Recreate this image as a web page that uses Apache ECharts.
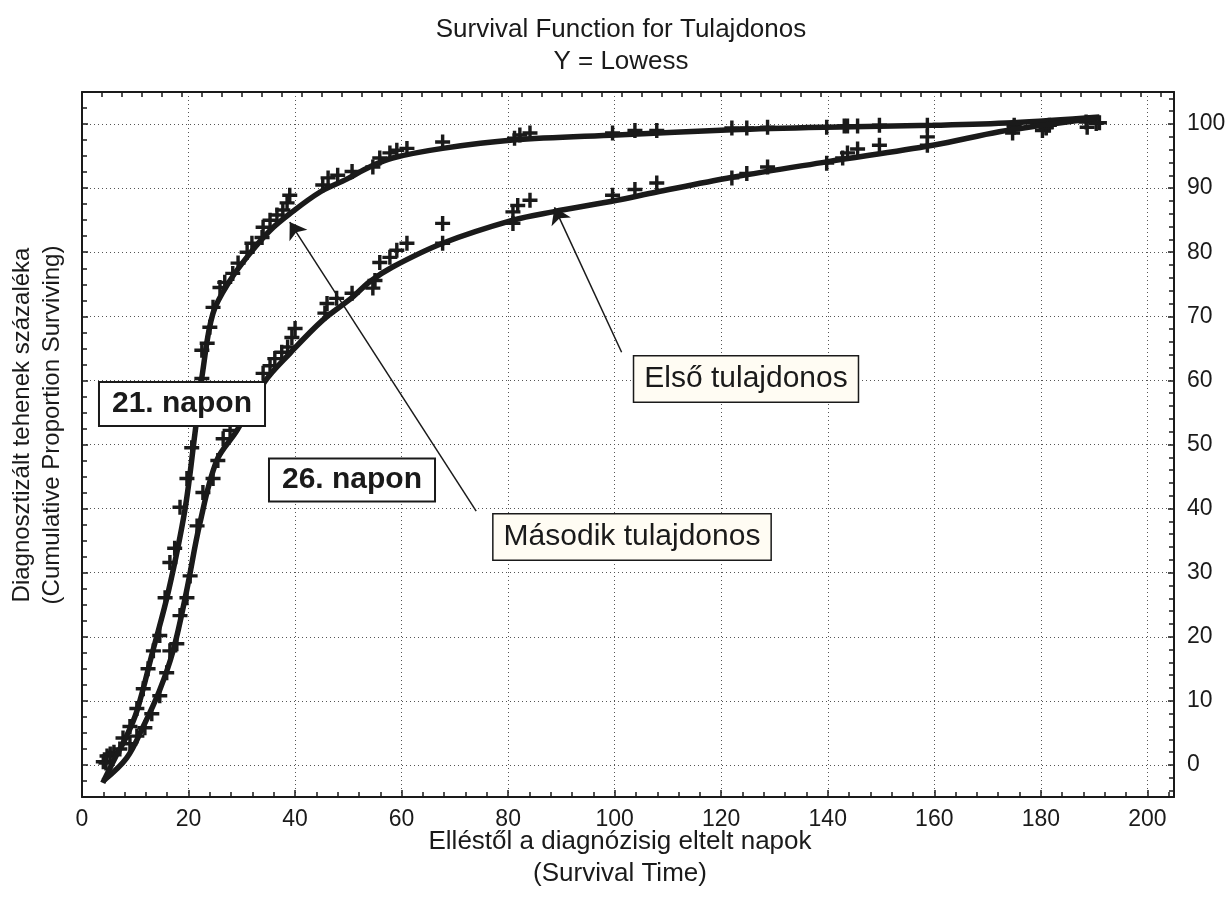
<!DOCTYPE html>
<html>
<head>
<meta charset="utf-8">
<script src="https://cdn.jsdelivr.net/npm/echarts@6/dist/echarts.min.js"></script>
<style>
  html, body { margin: 0; padding: 0; background: #fff; }
  #chart { width: 1232px; height: 909px; }
</style>
</head>
<body>
<div id="chart"></div>
<script>
// felső görbe (Második tulajdonos) - mért pontok
const upperPts = [[4,0.5],[4.7,1.4],[6,2],[7.7,4.2],[9,6],[10.3,8.8],[11.5,11.9],[12.4,15],[13.4,17.8],[14.6,20.2],
  [15.6,26.1],[16.5,31.6],[17.4,33.8],[18.4,40.2],[19.7,44.7],[20.6,49.5],[22.5,60.3],[22.5,64.7],[23.5,65.8],[24,68.3],
  [24.6,71.4],[25.9,74.5],[26.8,75.3],[28.3,76.7],[29.3,78.3],[31,80],[31.9,81.4],[33.8,82.3],[34,83.9],[35.3,85],
  [36.6,85.8],[37.7,86.6],[38.5,87.7],[39,88.9],[45.2,90.5],[46.2,91.6],[48,92],[50.7,92.6],[54.6,93.3],[55.9,94.7],
  [57.8,95.5],[59.1,95.9],[61,96.2],[67.7,97.2],[81.2,97.8],[82.2,98.3],[84.1,98.6],[99.6,98.6],[103.8,99],[107.9,99],
  [122,99.4],[124.8,99.4],[128.7,99.5],[139.8,99.5],[143.1,99.7],[143.7,99.7],[145.6,99.7],[149.7,99.8],[158.7,99.8],
  [175,99.8],[181,99.4],[181.6,99.8],[188.5,100.3],[190.4,100.1]];
// alsó görbe (Első tulajdonos) - mért pontok
const lowerPts = [[4.5,0.3],[5.3,1.7],[7.1,2.5],[9,3.3],[10.3,4.5],[11.8,5.8],[13.1,8],[14.6,10.8],[15.9,14.4],[16.5,17.8],
  [17.8,18.9],[18.4,23.3],[19.7,26.1],[20.3,29.5],[21.6,37.3],[22.7,42.5],[24.6,44.7],[25.5,47.5],[26.5,50.9],[27.8,52.2],
  [29.5,54],[31,56.5],[32.5,58.5],[34,61.1],[35.3,62.3],[36.2,63.4],[37.5,64.4],[38.6,65.2],[39.4,66.7],[40,68.1],
  [45.6,70.5],[46,72],[47.8,72.8],[50.7,73.6],[54.6,74.4],[55,75.6],[55.9,78.4],[57.8,79.2],[59.1,80.3],[61,81.4],
  [67.7,81.4],[67.7,84.5],[80.9,84.5],[80.9,86.3],[81.8,87.3],[84.1,88.1],[99.6,88.9],[103.8,89.8],[107.9,90.8],
  [122,91.6],[124.8,92.3],[128.7,93.3],[139.8,93.9],[142.8,94.7],[143.7,95.5],[145.6,96.1],[149.7,96.7],[158.7,96.7],
  [158.7,98],[174.7,98.6],[175,99.5],[180.3,99],[181,99.5],[188.7,99.5],[191,100.2]];
// Lowess görbék
const upperCurve = [[3.9,-2.8],[6.2,1.1],[8.2,4.2],[10.3,8.4],[13.3,17.8],[16.2,27],[19.3,39.7],[21.2,51.7],[22.7,61.6],
  [24.6,70.5],[27.8,75.6],[31.5,79.8],[35.3,83.4],[39,86],[44.7,89.4],[49.7,91.4],[54,93.3],[58.3,94.7],[67.7,96.2],
  [80.9,97.5],[100.4,98.3],[122.1,99.1],[139.8,99.5],[159.7,99.8],[174.7,100.2],[191,101.1]];
const lowerCurve = [[4,-2.5],[8.4,1.1],[11.5,6],[14.5,11.5],[17.1,17.8],[19.6,27],[22.1,37.6],[25.3,47.5],[29.1,52.2],
  [34.3,59.8],[39,64.2],[45.2,69.4],[50.8,73],[54,75.4],[58.3,77.7],[67.7,81.4],[80.9,85],[88.4,86.3],[100.4,88.1],
  [107.9,89.4],[122.1,91.7],[139.8,94.1],[159.7,96.7],[172.2,98.8],[180.3,99.8],[191,101]];
// nyilak (kezdő és végpont adatkoordinátában)
const arrowMasodik = [[74,39.6],[39,84.7]];
const arrowElso = [[101.3,64.4],[88.7,87]];

const FONT = "'Liberation Sans', Arial, sans-serif";
const INK = "#1a1a1a";
const plusPath = "path://M-1.6,-7H1.6V-1.6H7V1.6H1.6V7H-1.6V1.6H-7V-1.6H-1.6Z";

let myChart = echarts.init(document.getElementById("chart"));

let gridDots = { color: "#555", width: 1, type: [1, 3] };

let option = {
    backgroundColor: "#fff",
    animation: false,
    textStyle: { fontFamily: FONT },
    grid: { left: 82, right: 58, top: 92, bottom: 112 },
    xAxis: [{
        type: "value", position: "bottom", min: 0, max: 205, interval: 20,
        axisLine: { onZero: false, lineStyle: { color: INK, width: 2 } },
        axisTick: { inside: true, length: 7, lineStyle: { color: INK, width: 1.5 } },
        minorTick: { show: true, splitNumber: 5, length: 5, lineStyle: { color: INK, width: 1.5 } },
        splitLine: { show: true, lineStyle: gridDots },
        axisLabel: { fontSize: 23, color: INK, margin: 11, showMaxLabel: false, fontFamily: FONT }
    }, {
        type: "value", position: "top", min: 0, max: 205, interval: 3.75,
        axisLine: { onZero: false, lineStyle: { color: INK, width: 2 } },
        axisTick: { inside: true, length: 5, lineStyle: { color: INK, width: 1.5 } },
        splitLine: { show: false },
        axisLabel: { show: false }
    }],
    yAxis: [{
        type: "value", position: "left", min: -5, max: 105, splitNumber: 11,
        axisLine: { show: true, onZero: false, lineStyle: { color: INK, width: 2 } },
        axisTick: { inside: true, length: 6, lineStyle: { color: INK, width: 1.5 } },
        minorTick: { show: true, splitNumber: 4, length: 5, lineStyle: { color: INK, width: 1.5 } },
        splitLine: { show: true, lineStyle: gridDots },
        axisLabel: { show: false }
    }, {
        type: "value", position: "right", min: -5, max: 105, splitNumber: 11,
        axisLine: { show: true, onZero: false, lineStyle: { color: INK, width: 2 } },
        axisTick: { inside: true, length: 6, lineStyle: { color: INK, width: 1.5 } },
        minorTick: { show: true, splitNumber: 5, length: 5, lineStyle: { color: INK, width: 1.5 } },
        splitLine: { show: false },
        axisLabel: { fontSize: 23, color: INK, margin: 13, showMinLabel: false, showMaxLabel: false, fontFamily: FONT }
    }],
    series: [{
        name: "Második tulajdonos pontok", type: "scatter", data: upperPts,
        symbol: plusPath, symbolSize: 15, itemStyle: { color: INK, opacity: 1 }, z: 2
    }, {
        name: "Első tulajdonos pontok", type: "scatter", data: lowerPts,
        symbol: plusPath, symbolSize: 15, itemStyle: { color: INK, opacity: 1 }, z: 2
    }, {
        name: "Második tulajdonos", type: "line", data: upperCurve, smooth: 0.35,
        showSymbol: false, lineStyle: { color: INK, width: 5.5 }, z: 3,
        markLine: {
            silent: true, symbol: ["none", "arrow"], symbolSize: 16, label: { show: false },
            lineStyle: { color: INK, width: 1.5, type: "solid" },
            data: [
                [{ coord: arrowMasodik[0] }, { coord: arrowMasodik[1] }],
                [{ coord: arrowElso[0] }, { coord: arrowElso[1] }]
            ]
        }
    }, {
        name: "Első tulajdonos", type: "line", data: lowerCurve, smooth: 0.35,
        showSymbol: false, lineStyle: { color: INK, width: 5.5 }, z: 3
    }],
    graphic: [
        { type: "text", x: 621, y: 30, z: 10, style: { text: "Survival Function for Tulajdonos", font: "26px " + FONT, fill: INK, align: "center", verticalAlign: "middle" } },
        { type: "text", x: 621, y: 62, z: 10, style: { text: "Y = Lowess", font: "26px " + FONT, fill: INK, align: "center", verticalAlign: "middle" } },
        { type: "text", x: 620, y: 842, z: 10, style: { text: "Elléstől a diagnózisig eltelt napok", font: "26px " + FONT, fill: INK, align: "center", verticalAlign: "middle" } },
        { type: "text", x: 620, y: 874, z: 10, style: { text: "(Survival Time)", font: "26px " + FONT, fill: INK, align: "center", verticalAlign: "middle" } },
        { type: "text", x: 22, y: 425, rotation: Math.PI / 2, z: 10, style: { text: "Diagnosztizált tehenek százaléka", font: "24px " + FONT, fill: INK, align: "center", verticalAlign: "middle" } },
        { type: "text", x: 52, y: 425, rotation: Math.PI / 2, z: 10, style: { text: "(Cumulative Proportion Surviving)", font: "24px " + FONT, fill: INK, align: "center", verticalAlign: "middle" } },
        { type: "text", x: 182, y: 404, z: 20, style: { text: "21. napon", font: "bold 30px " + FONT, fill: INK, align: "center", verticalAlign: "middle",
            backgroundColor: "#fff", borderColor: INK, borderWidth: 2, padding: [7, 12, 5, 12] } },
        { type: "text", x: 352, y: 480, z: 20, style: { text: "26. napon", font: "bold 30px " + FONT, fill: INK, align: "center", verticalAlign: "middle",
            backgroundColor: "#fff", borderColor: INK, borderWidth: 2, padding: [6, 12, 5, 12] } },
        { type: "text", x: 746, y: 379, z: 20, style: { text: "Első tulajdonos", font: "30px " + FONT, fill: INK, align: "center", verticalAlign: "middle",
            backgroundColor: "#fffcf3", borderColor: INK, borderWidth: 1.5, padding: [8, 10, 7, 10] } },
        { type: "text", x: 632, y: 537, z: 20, style: { text: "Második tulajdonos", font: "30px " + FONT, fill: INK, align: "center", verticalAlign: "middle",
            backgroundColor: "#fffcf3", borderColor: INK, borderWidth: 1.5, padding: [8, 10, 7, 10] } }
    ]
};

myChart.setOption(option);
</script>
</body>
</html>
